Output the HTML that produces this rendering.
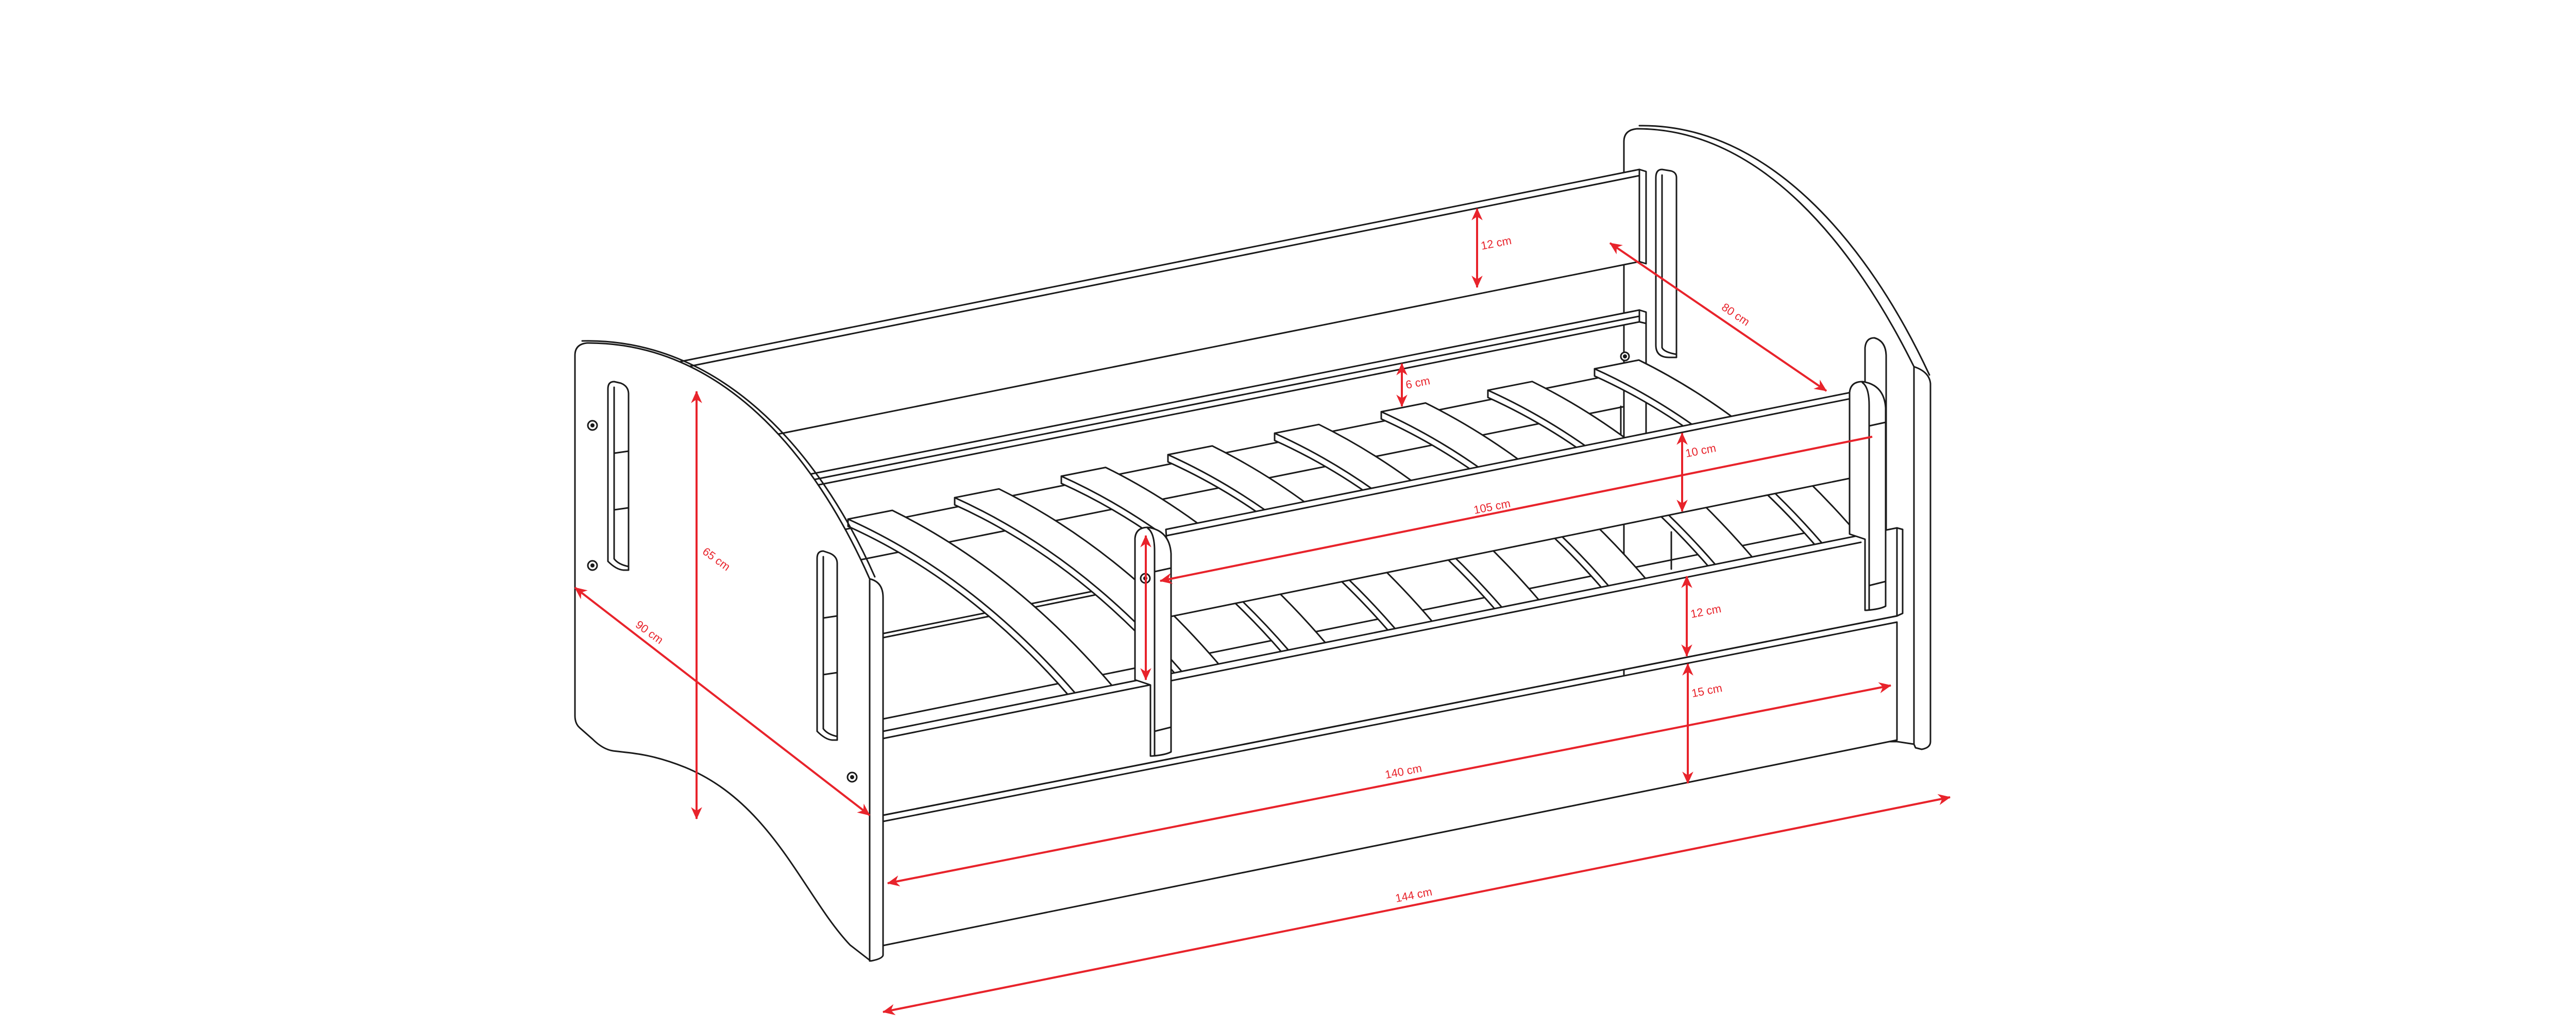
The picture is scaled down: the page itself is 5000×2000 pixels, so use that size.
<!DOCTYPE html>
<html><head><meta charset="utf-8"><style>
html,body{margin:0;padding:0;background:#fff;}
svg{display:block;}
text{font-family:"Liberation Sans",sans-serif;font-size:22px;fill:#e8232b;}
</style></head><body>
<svg width="5000" height="2000" viewBox="0 0 5000 2000" xmlns="http://www.w3.org/2000/svg">
<defs>
<marker id="a" viewBox="0 0 10 10" refX="9.5" refY="5" markerWidth="8" markerHeight="6" orient="auto-start-reverse" markerUnits="strokeWidth">
<path d="M0,0.5 L10,5 L0,9.5 L3,5 Z" fill="#e8232b"/>
</marker>
<g id="slat">
<path d="M1646,1022 L1646,1008 L1732,991 Q1967,1107 2160,1333 L2074,1350 Q1881,1128 1646,1022 Z" fill="#fff"/>
<path d="M1646,1008 Q1890,1118 2088,1347" fill="none"/>
</g>
<g id="post">
<path d="M2203,1045 Q2205,1024 2228,1024 Q2270,1030 2273,1075 L2273,1460 Q2262,1466 2236,1468 L2233,1468 L2233,1330 L2203,1320 Z" fill="#fff"/>
<path d="M2228,1026 Q2241,1035 2241,1070 L2241,1466" fill="none"/>
<path d="M2241,1420 L2273,1412 M2241,1110 L2273,1103" fill="none"/>
</g>
</defs>
<rect width="5000" height="2000" fill="#fff"/>
<g stroke="#1a1a1a" stroke-width="3" fill="none" stroke-linejoin="round" stroke-linecap="round">
<path d="M3152,1100 L3152,275 Q3152,252 3178,250 C3420,250 3600,480 3715,712 Q3745,722 3747,745 L3747,1440 Q3747,1452 3730,1455 L3718,1452 L3715,1445 L3682,1440 L3152,1440 Z" fill="#fff"/>
<path d="M3182,244 C3430,240 3625,470 3745,728" />
<path d="M3715,712 L3715,1445"/>
<path d="M3226,329 Q3214,329 3214,345 L3214,670 Q3214,694 3240,694 L3254,694 L3254,345 Q3254,335 3244,332 Z" fill="#fff"/>
<path d="M3226,340 L3226,675 Q3230,684 3254,688"/>
<path d="M1321,702 L3182,329 L3195,333 L3195,512 L3182,508 L1500,845 L1321,880 Z" fill="#fff"/>
<path d="M1330,713 L3182,341"/>
<path d="M3182,329 L3182,508"/>
<path d="M1571,921 L3182,602 L3195,606 L3195,628 L3182,625 L1571,945 Z" fill="#fff"/>
<path d="M1571,933 L3182,614 M3182,602 L3182,625"/>
<path d="M3195,628 L3195,850 M3146,789 L3146,847 M3244,1033 L3244,1105"/>
<path d="M1600,1036 L3150,724"/>
<path d="M1640,1093 L3150,790"/>
<path d="M1700,1233 L3600,850"/>
<path d="M1700,1241 L3600,858"/>
<path d="M1714,1396 L3612,1013"/>
<use href="#slat"/>
<use href="#slat" transform="translate(207,-41.7)"/>
<use href="#slat" transform="translate(414,-83.4)"/>
<use href="#slat" transform="translate(621,-125.1)"/>
<use href="#slat" transform="translate(828,-166.8)"/>
<use href="#slat" transform="translate(1035,-208.5)"/>
<use href="#slat" transform="translate(1242,-250.2)"/>
<use href="#slat" transform="translate(1449,-291.9)"/>
<path d="M3620,675 Q3622,656 3638,656 Q3660,662 3661,690 L3661,1180 L3620,1180 Z" fill="#fff"/>
<path d="M1714,1420 L3612,1039 L3682,1025 L3693,1028 L3693,1191 L3682,1196 L1714,1583 Z" fill="#fff"/>
<path d="M1714,1434 L3612,1053"/>
<path d="M3682,1025 L3682,1196"/>
<path d="M1714,1595 L3682,1208 L3682,1437 L1714,1836 Z" fill="#fff"/>
<path d="M1714,1583 L3682,1196"/>
<path d="M2263,1028 L3612,758 L3614,924 L2273,1197 Z" fill="#fff"/>
<path d="M2265,1040 L3612,770"/>
<use href="#post"/>
<use href="#post" transform="translate(1387,-283)"/>
<path d="M1116,690 Q1116,668 1140,666 C1400,665 1580,880 1688,1124 Q1714,1130 1714,1160 L1714,1855 Q1712,1862 1690,1866 L1650,1835 C1560,1740 1500,1560 1330,1490 C1260,1462 1220,1462 1190,1458 Q1170,1455 1150,1435 L1125,1413 Q1116,1405 1116,1390 Z" fill="#fff"/>
<path d="M1130,662 C1395,656 1588,870 1698,1120"/>
<path d="M1688,1126 L1688,1866"/>
<path d="M1192,741 Q1180,741 1180,755 L1180,1090 Q1196,1106 1210,1107 L1220,1107 L1220,765 Q1220,750 1205,744 Z" fill="#fff"/>
<path d="M1192,752 L1192,1085 Q1200,1096 1220,1100 M1192,880 L1220,876 M1192,990 L1220,986"/>
<path d="M1598,1070 Q1586,1070 1586,1084 L1586,1420 Q1602,1436 1615,1437 L1625,1437 L1625,1094 Q1625,1080 1610,1074 Z" fill="#fff"/>
<path d="M1598,1081 L1598,1415 Q1606,1426 1625,1430 M1598,1200 L1625,1196 M1598,1310 L1625,1306"/>
</g>
<g fill="#fff" stroke="#1a1a1a" stroke-width="3">
<circle cx="1150" cy="826" r="9"/><circle cx="1150" cy="1098" r="9"/><circle cx="1654" cy="1509" r="9"/>
<circle cx="3154" cy="692" r="8"/><circle cx="2223" cy="1123" r="9"/>
</g>
<g fill="#1a1a1a"><circle cx="1150" cy="826" r="4"/><circle cx="1150" cy="1098" r="4"/><circle cx="1654" cy="1509" r="4"/><circle cx="3154" cy="692" r="4"/><circle cx="2223" cy="1123" r="4"/></g>
<g stroke="#e8232b" stroke-width="4" fill="none" marker-start="url(#a)" marker-end="url(#a)">
<line x1="2867" y1="405" x2="2867" y2="558"/>
<line x1="3125" y1="472" x2="3545" y2="759"/>
<line x1="2721" y1="706" x2="2721" y2="789"/>
<line x1="3265" y1="841" x2="3265" y2="993"/>
<line x1="3274" y1="1119" x2="3274" y2="1274"/>
<line x1="3276" y1="1289" x2="3276" y2="1521"/>
<line x1="1723" y1="1715" x2="3670" y2="1331"/>
<line x1="1714" y1="1965" x2="3785" y2="1548"/>
<line x1="1352" y1="760" x2="1352" y2="1590"/>
<line x1="1116" y1="1141" x2="1688" y2="1583"/>
<line x1="2224" y1="1040" x2="2224" y2="1320"/>
</g>
<line x1="3634" y1="848" x2="2252" y2="1128" stroke="#e8232b" stroke-width="4" marker-end="url(#a)"/>
<text transform="translate(2876,485) rotate(-11)">12 cm</text>
<text transform="translate(3340,600) rotate(34)">80 cm</text>
<text transform="translate(2730,755) rotate(-11)">6 cm</text>
<text transform="translate(3273,888) rotate(-11)">10 cm</text>
<text transform="translate(2862,998) rotate(-11)">105 cm</text>
<text transform="translate(3283,1200) rotate(-11)">12 cm</text>
<text transform="translate(3285,1354) rotate(-11)">15 cm</text>
<text transform="translate(2690,1512) rotate(-11)">140 cm</text>
<text transform="translate(2710,1752) rotate(-11)">144 cm</text>
<text transform="translate(1362,1074) rotate(36)">65 cm</text>
<text transform="translate(1232,1216) rotate(36)">90 cm</text>
</svg>
</body></html>
